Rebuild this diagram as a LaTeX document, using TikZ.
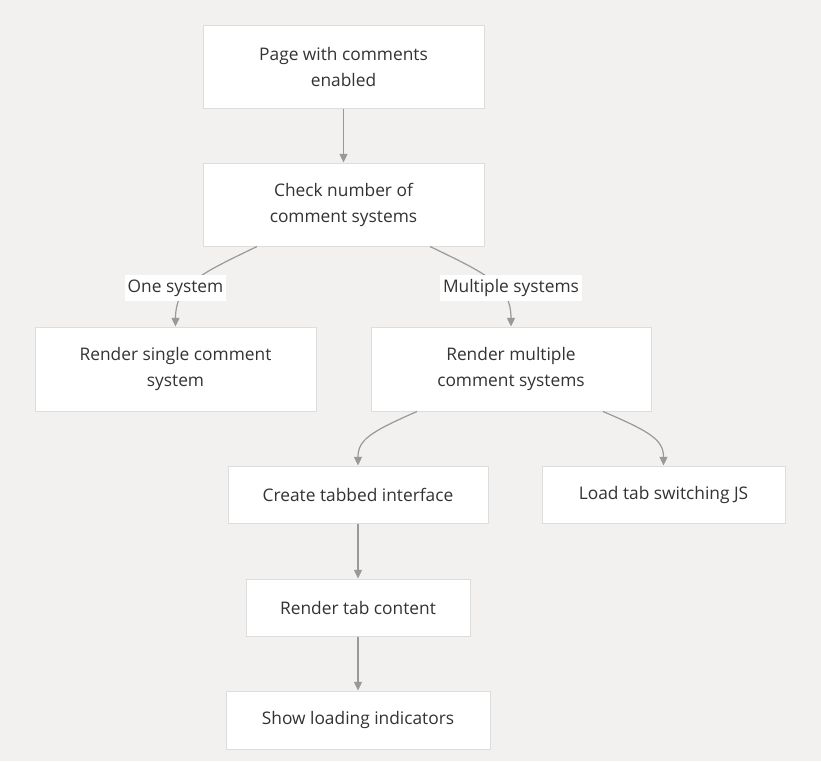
\documentclass[tikz,border=0pt]{standalone}
\usepackage{fontspec}
\setmainfont{Open Sans}
\usetikzlibrary{arrows.meta, calc}
\definecolor{bg}{HTML}{F2F1EF}
\definecolor{boxline}{HTML}{DDDDDD}
\definecolor{edge}{HTML}{999999}
\definecolor{txt}{HTML}{333333}
\tikzset{
	box/.style={draw=boxline, line width=0.75pt, fill=white, text=txt, align=center, inner sep=0pt, font=\fontsize{13}{19.5}\selectfont},
	link/.style={draw=edge, line width=0.9pt, -{Triangle[length=6.5pt, width=6pt]}},
	tag/.style={fill=white, text=txt, inner sep=2pt, minimum height=19.5pt, font=\fontsize{13}{14}\selectfont}
}
\begin{document}
\begin{tikzpicture}[x=0.75pt, y=-0.75pt]
			\fill[bg] (0, 0) rectangle (821, 761);
			\useasboundingbox (0, 0) rectangle (821, 761);
			
			\node[box, minimum width=281*0.75pt, minimum height=83*0.75pt] (page) at (343.5, 66.5) {Page with comments\\enabled};
			\node[box, minimum width=281*0.75pt, minimum height=83*0.75pt] (check) at (343.5, 204.5) {Check number of\\comment systems};
			\node[box, minimum width=281*0.75pt, minimum height=84*0.75pt] (single) at (175.5, 369) {Render single comment\\system};
			\node[box, minimum width=280*0.75pt, minimum height=84*0.75pt] (multi) at (511, 369) {Render multiple\\comment systems};
			\node[box, minimum width=260*0.75pt, minimum height=57*0.75pt] (tabs) at (358, 494.5) {Create tabbed interface};
			\node[box, minimum width=243*0.75pt, minimum height=57*0.75pt] (js) at (663.5, 494.5) {Load tab switching JS};
			\node[box, minimum width=224*0.75pt, minimum height=57*0.75pt] (content) at (358, 607.5) {Render tab content};
			\node[box, minimum width=264*0.75pt, minimum height=58*0.75pt] (loading) at (358, 720) {Show loading indicators};
			
			\draw[link] (page) -- (check);
			\draw[link] ($(check.south)+(-86.5, 0)$) .. controls (200, 274) and (175.5, 285) .. (single.north);
			\draw[link] ($(check.south)+(86.5, 0)$) .. controls (487, 274) and (511, 285) .. (multi.north);
			\draw[link] ($(multi.south)+(-94, 0)$) .. controls (370, 432) and (358, 440) .. (tabs.north);
			\draw[link] ($(multi.south)+(92, 0)$) .. controls (651, 432) and (663.5, 440) .. (js.north);
			\draw[link] (tabs) -- (content);
			\draw[link] (content) -- (loading);
			
			\node[tag] (one) at (175.5, 288) {One system};
			\node[tag] (many) at (511, 288) {Multiple systems};
\end{tikzpicture}
\end{document}
